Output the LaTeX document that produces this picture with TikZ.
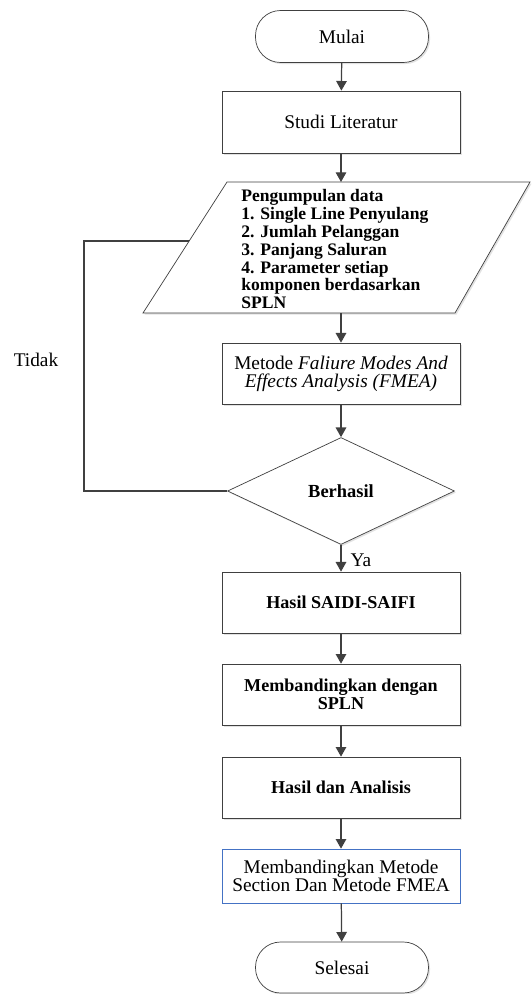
\documentclass[tikz,border=0pt]{standalone}
\usepackage{fontspec}
\setmainfont{Liberation Serif}
\usetikzlibrary{arrows.meta}
\usetikzlibrary{shapes.geometric}
\usetikzlibrary{shadows}
\definecolor{linegray}{RGB}{64,64,64}
\definecolor{boxblue}{RGB}{68,114,196}
\colorlet{shadowgray}{gray!45!white}

\tikzset{
  softshadow/.style={drop shadow={shadow xshift=0.9pt,shadow yshift=-0.9pt,fill=shadowgray}},
  flowbox/.style={draw=linegray, fill=white, softshadow, minimum width=4.76cm,
    minimum height=1.22cm, align=center, font=\fontsize{11}{10.3}\selectfont},
  terminal/.style={draw=linegray, fill=white, softshadow, rounded corners=0.5cm,
    minimum width=3.46cm, minimum height=1.04cm, font=\fontsize{11}{10.3}\selectfont},
  decision/.style={diamond, draw=linegray, fill=white, softshadow, inner sep=0pt,
    minimum width=4.54cm, minimum height=2.14cm, font=\bfseries\fontsize{10.5}{10.3}\selectfont},
  flowarrow/.style={-{Triangle[width=6pt,length=5.5pt]}, draw=linegray, line width=0.7pt},
  loopline/.style={draw=linegray, line width=0.7pt}
}

\begin{document}
\begin{tikzpicture}[x=0.02cm, y=-0.02cm]
  \useasboundingbox (0,0) rectangle (531,994);

  % start and literature
  \node[terminal] (mulai) at (342,36.5) {Mulai};
  \node[flowbox, minimum height=1.24cm] (studi) at (341,122) {Studi Literatur};

  % data collection (parallelogram)
  \coordinate (datatl) at (227,182);
  \coordinate (datatr) at (530,182);
  \coordinate (databr) at (455,313);
  \coordinate (databl) at (143,313);
  \coordinate (datatop) at (341,182);
  \coordinate (databot) at (341,313);
  \draw[draw=linegray, fill=white, softshadow] (datatl) -- (datatr) -- (databr) -- (databl) -- cycle;
  \node[anchor=west, inner sep=0pt, align=left, font=\bfseries\fontsize{10}{10.24}\selectfont] (data) at (241,249)
    {Pengumpulan data\\1. Single Line Penyulang\\2. Jumlah Pelanggan\\3. Panjang Saluran\\4. Parameter setiap\\komponen berdasarkan\\SPLN};

  % method and decision
  \node[flowbox] (metode) at (341,373.5) {Metode \textit{Faliure Modes And}\\\textit{Effects Analysis (FMEA)}};
  \node[decision] (cek) at (341,491) {Berhasil};

  % results
  \node[flowbox, font=\bfseries\fontsize{10.3}{10.3}\selectfont] (saidi) at (341,602.5) {Hasil SAIDI-SAIFI};
  \node[flowbox, font=\bfseries\fontsize{10.3}{10.3}\selectfont] (banding) at (341,694.5) {Membandingkan dengan\\SPLN};
  \node[flowbox, font=\bfseries\fontsize{10.3}{10.3}\selectfont] (analisis) at (341,787.5) {Hasil dan Analisis};
  \node[draw=boxblue, fill=white, minimum width=4.76cm, minimum height=1.08cm, align=center,
    font=\fontsize{11}{10.3}\selectfont] (section) at (341,876) {Membandingkan Metode\\Section Dan Metode FMEA};
  \node[terminal, minimum height=1.02cm] (selesai) at (342,967.5) {Selesai};

  % connectors
  \draw[flowarrow] (mulai) -- (studi);
  \draw[flowarrow] (studi) -- (datatop);
  \draw[flowarrow] (databot) -- (metode);
  \draw[flowarrow] (metode) -- (cek);
  \draw[flowarrow] (cek) -- (saidi);
  \draw[flowarrow] (saidi) -- (banding);
  \draw[flowarrow] (banding) -- (analisis);
  \draw[flowarrow] (analisis) -- (section);
  \draw[flowarrow] (section) -- (selesai);

  % loop back
  \coordinate (loopturn) at (84,241);
  \coordinate (loopin) at (189,241);
  \draw[loopline] (cek.west) -| (loopturn) -- (loopin);

  \node[font=\fontsize{11}{10.3}\selectfont] (tidak) at (36,360) {Tidak};
  \node[font=\fontsize{11}{10.3}\selectfont] (ya) at (361,560) {Ya};

\end{tikzpicture}
\end{document}
